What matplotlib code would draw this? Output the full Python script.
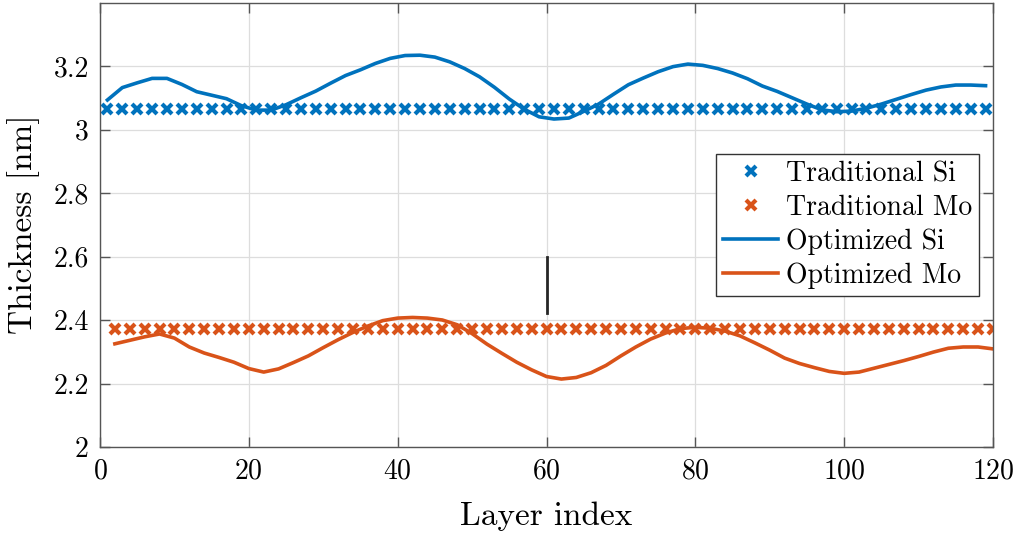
import numpy as np
import matplotlib
matplotlib.use("Agg")
import matplotlib.pyplot as plt
from matplotlib.ticker import FuncFormatter

# ---- data ----
si_layers = list(range(1, 120, 2))
mo_layers = list(range(2, 121, 2))
trad_si = [3.063] * len(si_layers)
trad_mo = [2.371] * len(mo_layers)
opt_si = [3.093, 3.132, 3.147, 3.161, 3.161, 3.142, 3.119, 3.108, 3.097, 3.075,
          3.061, 3.061, 3.078, 3.100, 3.121, 3.146, 3.170, 3.188, 3.208, 3.224,
          3.233, 3.234, 3.228, 3.213, 3.192, 3.166, 3.133, 3.096, 3.064, 3.040,
          3.033, 3.036, 3.057, 3.080, 3.111, 3.141, 3.162, 3.182, 3.198, 3.206,
          3.202, 3.192, 3.178, 3.160, 3.137, 3.120, 3.100, 3.080, 3.062, 3.056,
          3.058, 3.067, 3.080, 3.095, 3.110, 3.124, 3.134, 3.140, 3.140, 3.138]
opt_mo = [2.325, 2.336, 2.347, 2.356, 2.343, 2.315, 2.296, 2.282, 2.267, 2.247,
          2.236, 2.246, 2.266, 2.287, 2.313, 2.338, 2.361, 2.381, 2.398, 2.406,
          2.408, 2.406, 2.400, 2.385, 2.357, 2.324, 2.295, 2.267, 2.243, 2.222,
          2.214, 2.219, 2.234, 2.257, 2.287, 2.315, 2.340, 2.359, 2.373, 2.377,
          2.374, 2.365, 2.350, 2.328, 2.305, 2.280, 2.263, 2.250, 2.238, 2.232,
          2.236, 2.248, 2.260, 2.272, 2.285, 2.299, 2.311, 2.315, 2.315, 2.309]
marker_x = [60, 60]
marker_y = [2.422, 2.600]
x_ticks = [0, 20, 40, 60, 80, 100, 120]
y_ticks = [2.0, 2.2, 2.4, 2.6, 2.8, 3.0, 3.2]
labels = ["Traditional Si", "Traditional Mo", "Optimized Si", "Optimized Mo"]

plt.rcParams['font.family'] = ['cmr10', 'DejaVu Serif']
plt.rcParams['mathtext.fontset'] = 'cm'
plt.rcParams['axes.formatter.use_mathtext'] = True
plt.rcParams['axes.unicode_minus'] = False

blue = '#0072BD'
orange = '#D95319'

fig = plt.figure(figsize=(10.16, 5.34), dpi=100)
ax = fig.add_axes([100/1016, (534-447)/534, (993-100)/1016, (447-2.5)/534])

ax.plot(si_layers, trad_si, linestyle='none', marker='x', ms=7, mew=3, color=blue, label=labels[0])
ax.plot(mo_layers, trad_mo, linestyle='none', marker='x', ms=7, mew=3, color=orange, label=labels[1])
ax.plot(si_layers, opt_si, color=blue, lw=2.6, label=labels[2])
ax.plot(mo_layers, opt_mo, color=orange, lw=2.6, label=labels[3])
ax.plot(marker_x, marker_y, color='#262626', lw=2)

ax.set_xlim(0, 120)
ax.set_ylim(2, 3.4)
ax.set_xticks(x_ticks)
ax.set_yticks(y_ticks)
ax.yaxis.set_major_formatter(FuncFormatter(lambda v, p: f"{v:g}"))
ax.tick_params(direction='in', top=True, right=True, labelsize=20, length=7,
               color='#555555', width=1, pad=8)
for s in ax.spines.values():
    s.set_color('#555555')
    s.set_linewidth(1)
ax.grid(True, color='#dddddd', lw=0.9)
ax.set_axisbelow(True)
ax.set_xlabel("Layer index", fontsize=24, labelpad=12)
ax.set_ylabel("Thickness [nm]", fontsize=24, labelpad=10)

leg = ax.legend(loc='center right', fontsize=20, frameon=True, fancybox=False,
                edgecolor='#333333', framealpha=1, borderpad=0.25, labelspacing=0.27,
                handlelength=1.95, handletextpad=0.3, borderaxespad=0.5)
leg.get_frame().set_linewidth(1)

fig.savefig("out.png", dpi=100)
